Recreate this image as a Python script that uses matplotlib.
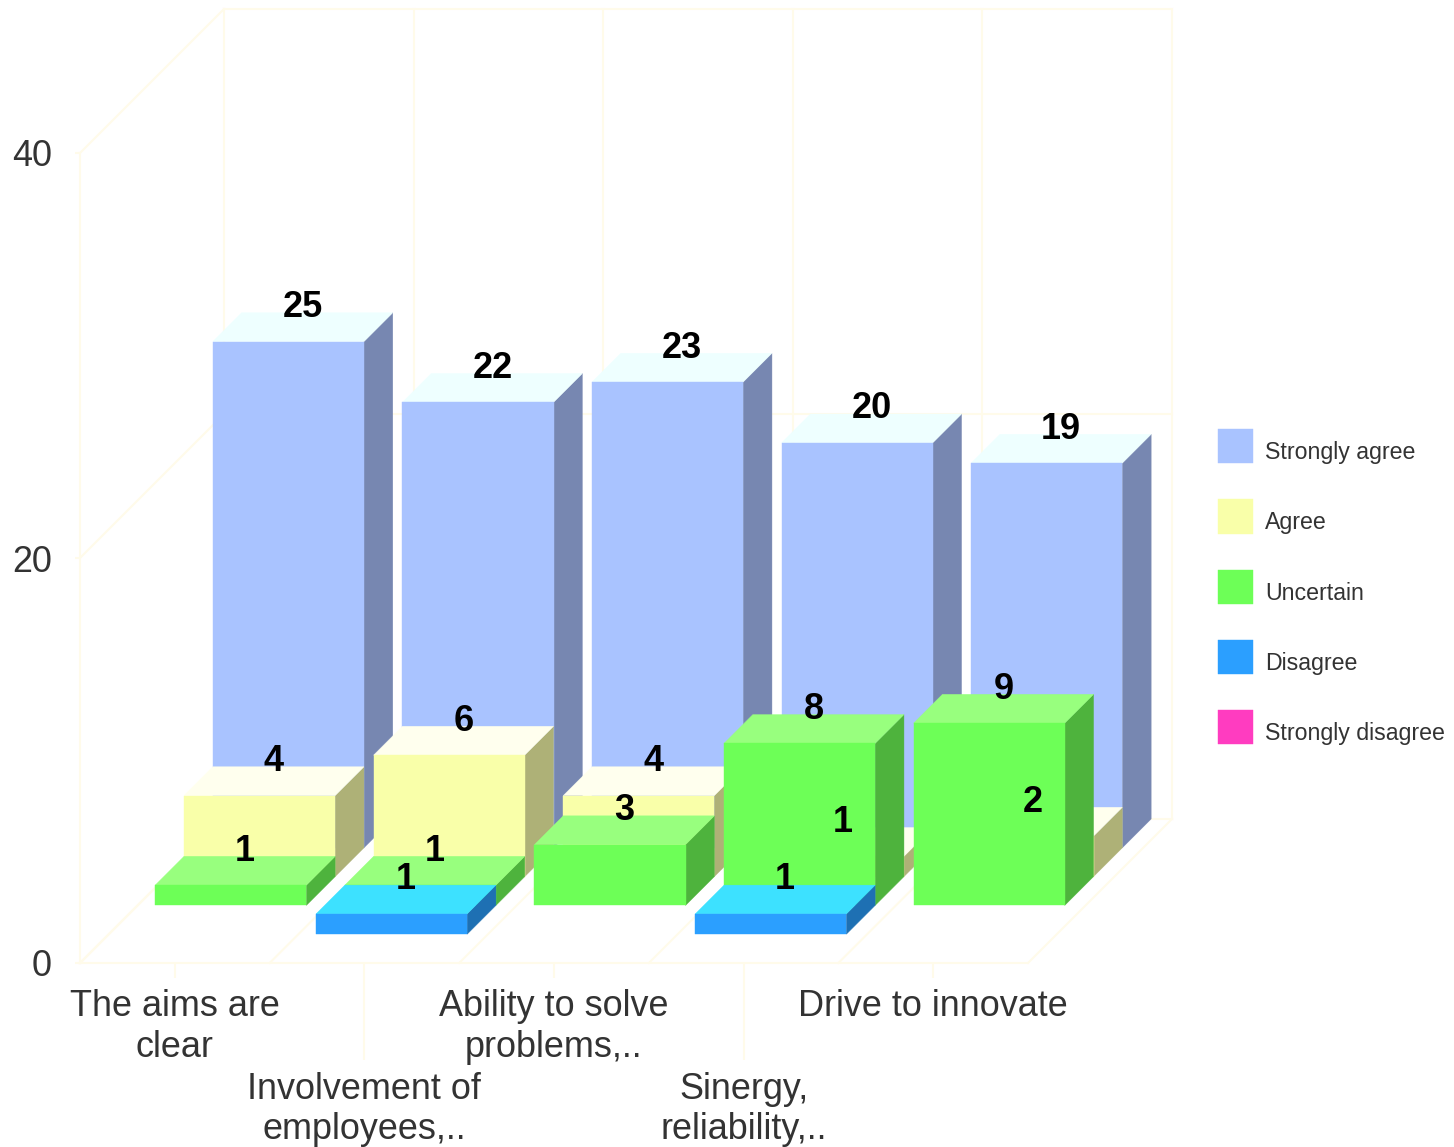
import matplotlib.pyplot as plt
from matplotlib.patches import Polygon, Patch

plt.rcParams['font.family'] = ['Liberation Sans', 'DejaVu Sans']

categories = ["The aims are\nclear", "Involvement of\nemployees,..", "Ability to solve\nproblems,..",
              "Sinergy,\nreliability,..", "Drive to innovate"]
series_names = ["Strongly agree", "Agree", "Uncertain", "Disagree", "Strongly disagree"]

strongly_agree = [25, 22, 23, 20, 19]
agree = [4, 6, 4, 1, 2]
uncertain = [1, 1, 3, 8, 9]
disagree = [0, 1, 0, 1, 0]
strongly_disagree = [0, 0, 0, 0, 0]

# front, side, top
colors = [("#A9C3FF", "#7787B1", "#EEFFFF"),
          ("#F9FFA9", "#AEB177", "#FFFFEE"),
          ("#6DFF57", "#4EB33D", "#98FF7E"),
          ("#2B9FFF", "#1E70B3", "#3DE1FF"),
          ("#FF3CC0", "#B32A86", "#FF54FF")]
grid_color = "#FFFBEA"

W, H = 1454, 1147
X_UNIT = 189.6  # px per category
Y_UNIT = 20.25  # px per value
X0, Y0 = 80, 963  # px of the front corner

fig = plt.figure(figsize=(W / 100, H / 100), dpi=100)
ax = fig.add_axes([0, 0, 1, 1])
ax.set_xlim(-X0 / X_UNIT, (W - X0) / X_UNIT)
ax.set_ylim((Y0 - H) / Y_UNIT, Y0 / Y_UNIT)

slot = 28.8  # depth of one series in px
dx = slot / X_UNIT
dy = slot / Y_UNIT
depth_x = 5 * dx
depth_y = 5 * dy
bar_w = 0.797

# walls and floor
n = len(categories)
for v in [0, 20, 40]:
    ax.plot([0, depth_x], [v, v + depth_y], color=grid_color, lw=1.5, zorder=1)
    ax.plot([depth_x, n + depth_x], [v + depth_y, v + depth_y], color=grid_color, lw=1.5, zorder=1)
for i in range(n + 1):
    ax.plot([i + depth_x, i + depth_x], [depth_y, 40 + depth_y], color=grid_color, lw=1.5, zorder=1)
    ax.plot([i, i + depth_x], [0, depth_y], color=grid_color, lw=1.5, zorder=1)

all_values = [strongly_agree, agree, uncertain, disagree, strongly_disagree]

# furthest series first, so the nearer ones cover it
z = 3
labels = []
for s, values in enumerate(all_values):
    d = 4 - s  # series index from the front
    for i, val in enumerate(values):
        if val == 0:
            continue
        x1 = i + 0.093 + d * dx
        x2 = x1 + bar_w
        y1 = d * dy
        y2 = y1 + val
        front, side, top = colors[s]
        ax.add_patch(Polygon([(x2, y1), (x2 + dx, y1 + dy), (x2 + dx, y2 + dy), (x2, y2)],
                             fc=side, ec=side, lw=0.3, zorder=z))
        ax.add_patch(Polygon([(x1, y2), (x2, y2), (x2 + dx, y2 + dy), (x1 + dx, y2 + dy)],
                             fc=top, ec=top, lw=0.3, zorder=z))
        ax.add_patch(Polygon([(x1, y1), (x2, y1), (x2, y2), (x1, y2)],
                             fc=front, ec=front, lw=0.3, zorder=z))
        z += 1
        labels.append((x1 + bar_w / 2 + dx / 2, y2 + 1.68, val))

for x, y, val in labels:
    ax.text(x, y, str(val), ha='center', va='center', fontsize=26, fontweight='bold',
            color='black', zorder=100)

# axes
for side in ['top', 'right']:
    ax.spines[side].set_visible(False)
ax.spines['left'].set_position(('data', 0))
ax.spines['bottom'].set_position(('data', 0))
ax.spines['left'].set_bounds(0, 40)
ax.spines['bottom'].set_bounds(0, n)
ax.spines['left'].set_color(grid_color)
ax.spines['bottom'].set_color(grid_color)
ax.spines['left'].set_linewidth(1.5)
ax.spines['bottom'].set_linewidth(1.5)
ax.set_yticks([0, 20, 40])
ax.tick_params(axis='y', length=3.6, width=1.5, color=grid_color, labelcolor='#333333',
               labelsize=25.9, pad=16.5)
ax.set_xticks([i + 0.5 for i in range(n)], categories)
ax.tick_params(axis='x', width=1.5, color=grid_color, labelcolor='#333333', labelsize=25.9)
for i, tick in enumerate(ax.xaxis.get_major_ticks()):
    long_tick = i % 2 == 1
    # set_pad resets the tick size, so the pad goes first
    tick.set_pad(75 if long_tick else 15.5)
    tick.tick1line.set_markersize(70 if long_tick else 10.5)
    tick.label1.set_linespacing(1.2)

handles = [Patch(fc=c[0], ec=c[0], lw=0.3) for c in colors]
leg = ax.legend(handles, series_names, loc='upper left', bbox_to_anchor=(1218 / W, 1 - 429 / H),
                bbox_transform=fig.transFigure, frameon=False, borderpad=0, borderaxespad=0,
                fontsize=16.7, handlelength=1.49, handleheight=1.9, labelspacing=1.55,
                handletextpad=0.55, labelcolor='#333333')
for t in leg.get_texts():
    t.set_y(-5.5)

fig.savefig("out.png", dpi=100, facecolor='white')
